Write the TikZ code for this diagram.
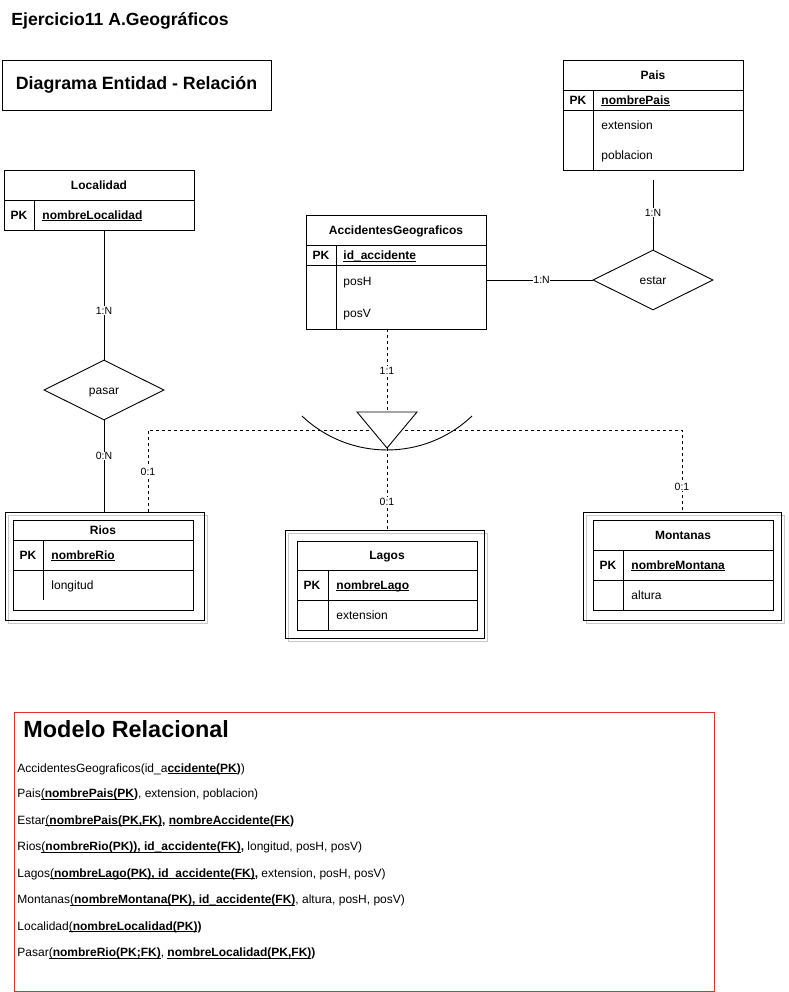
\documentclass[tikz,border=0pt]{standalone}
\usepackage{fontspec}
\setmainfont{Liberation Sans}
\usetikzlibrary{shapes.geometric}
% underline with a fixed offset below the baseline
\newcommand\ulbox[1]{\setbox0\hbox{#1}\rlap{\rule[-1.8pt]{\wd0}{0.75pt}}\box0}
\definecolor{framered}{RGB}{220,50,50}
\definecolor{shadowgray}{RGB}{200,200,200}
\begin{document}
\begin{tikzpicture}[x=1pt,y=-1pt,line width=0.9pt,
  every node/.style={inner sep=0pt},
  txt/.style={font=\fontsize{12}{14}\selectfont, text height=8.6pt, text depth=0pt},
  hdr/.style={txt, font=\fontsize{12}{14}\selectfont\bfseries},
  attr/.style={txt, anchor=west},
  keyattr/.style={attr, font=\fontsize{12}{14}\selectfont\bfseries},
  tbl/.style={draw, rectangle},
  outerbox/.style={draw, rectangle},
  card/.style={fill=white, inner sep=0.6pt, font=\fontsize{10.5}{12}\selectfont, text height=7.5pt, text depth=0pt},
  rel/.style={diamond, draw, aspect=2, minimum width=120pt, minimum height=60pt, inner sep=0pt, txt},
  dsh/.style={dash pattern=on 3pt off 3pt},
  relline/.style={anchor=west, font=\fontsize{12}{14}\selectfont, text height=8.6pt, text depth=0pt}
]
\useasboundingbox (0,0) rectangle (788,992);

% ---------- headings ----------
\node[anchor=base west, font=\fontsize{17.6}{20}\selectfont\bfseries] (title) at (11,26) {Ejercicio11 A.Geográficos};
\node[draw, minimum width=269pt, minimum height=50pt, font=\fontsize{17.8}{20}\selectfont\bfseries] (erbox) at (136.5,85) {Diagrama Entidad - Relación};

% ---------- Pais ----------
\node[tbl, minimum width=180pt, minimum height=110pt] (pais) at (653,115) {};
\draw (563,90) -- (743,90) (563,110) -- (743,110) (593,90) -- (593,170);
\node[hdr] (paisH) at (653,75) {Pais};
\node[hdr] (paisPK) at (578,100) {PK};
\node[keyattr] (paisK) at (601,100) {\ulbox{nombrePais}};
\node[attr] (paisA1) at (601,125) {extension};
\node[attr] (paisA2) at (601,155) {poblacion};

% ---------- Localidad ----------
\node[tbl, minimum width=190pt, minimum height=60pt] (loc) at (99,200) {};
\draw (4,200) -- (194,200) (34,200) -- (34,230);
\node[hdr] (locH) at (99,185) {Localidad};
\node[hdr] (locPK) at (19,215) {PK};
\node[keyattr] (locK) at (42,215) {\ulbox{nombreLocalidad}};

% ---------- AccidentesGeograficos ----------
\node[tbl, minimum width=180pt, minimum height=114pt] (acc) at (396,272) {};
\draw (306,245) -- (486,245) (306,265.5) -- (486,265.5) (336,245) -- (336,329);
\node[hdr] (accH) at (396,230) {AccidentesGeograficos};
\node[hdr] (accPK) at (321,255.5) {PK};
\node[keyattr] (accK) at (343,255.5) {\ulbox{id\_accidente}};
\node[attr] (accA1) at (343,281) {posH};
\node[attr] (accA2) at (343,313) {posV};

% ---------- relationships ----------
\node[rel] (estar) at (653,280) {estar};
\node[rel] (pasar) at (104,390) {pasar};

% ---------- Rios ----------
\draw[shadowgray, line width=0.8pt] (8,515) rectangle (207,623);
\node[outerbox, minimum width=199pt, minimum height=108pt] (riosO) at (104.5,566) {};
\node[tbl, minimum width=180pt, minimum height=90pt] (rios) at (103,565) {};
\draw (13,540) -- (193,540) (13,570) -- (193,570) (43,540) -- (43,600);
\node[hdr] (riosH) at (103,530) {Rios};
\node[hdr] (riosPK) at (28,555) {PK};
\node[keyattr] (riosK) at (51,555) {\ulbox{nombreRio}};
\node[attr] (riosA1) at (51,585) {longitud};

% ---------- Lagos ----------
\draw[shadowgray, line width=0.8pt] (288,533) rectangle (487,641);
\node[outerbox, minimum width=199pt, minimum height=108pt] (lagosO) at (384.5,584) {};
\node[tbl, minimum width=180pt, minimum height=89pt] (lagos) at (387,585.5) {};
\draw (297,570) -- (477,570) (297,600) -- (477,600) (328,570) -- (328,630);
\node[hdr] (lagosH) at (387,555) {Lagos};
\node[hdr] (lagosPK) at (312,585) {PK};
\node[keyattr] (lagosK) at (336,585) {\ulbox{nombreLago}};
\node[attr] (lagosA1) at (336,615) {extension};

% ---------- Montanas ----------
\draw[shadowgray, line width=0.8pt] (586,515) rectangle (784,623);
\node[outerbox, minimum width=198pt, minimum height=108pt] (montO) at (682,566) {};
\node[tbl, minimum width=180pt, minimum height=90pt] (mont) at (683,565) {};
\draw (593,550) -- (773,550) (593,580) -- (773,580) (623,550) -- (623,610);
\node[hdr] (montH) at (683,535) {Montanas};
\node[hdr] (montPK) at (608,565) {PK};
\node[keyattr] (montK) at (631,565) {\ulbox{nombreMontana}};
\node[attr] (montA1) at (631,595) {altura};

% ---------- connectors ----------
\coordinate (paisLink) at (653,180);
\draw (paisLink) -- node[card, pos=0.47] {1:N} (estar.north);
\draw (acc.east |- estar.west) -- node[card, pos=0.52] {1:N} (estar.west);
\draw (pasar.north |- loc.south) -- node[card, pos=0.62] {1:N} (pasar.north);
\draw (pasar.south) -- node[card, pos=0.39] {0:N} (pasar.south |- riosO.north);

% specialisation: triangle with covering arc
\coordinate (triL) at (357,412);
\coordinate (triR) at (417,412);
\coordinate (triTop) at (387,412);
\coordinate (triApex) at (387,448);
\coordinate (triMid) at (387,430);
\coordinate (arcL) at (302,416);
\coordinate (arcR) at (472,416);

\draw[dsh] (triTop |- acc.south) -- node[card] {1:1} (triTop);
\draw[dsh] (triMid) -| node[card, pos=0.755] {0:1} ([xshift=43.5pt]riosO.north);
\draw[dsh] (triMid) -| node[card, pos=0.85] {0:1} (montO.north);
\draw[dsh] (triApex) -- node[card, pos=0.66] {0:1} (triApex |- lagosO.north);
\draw (arcL) .. controls (349.6,461.3) and (424.4,461.3) .. (arcR);
\draw[fill=white] (triL) -- (triR) -- (triApex) -- cycle;

% ---------- relational model ----------
\node[draw=framered, line width=1pt, minimum width=700pt, minimum height=279pt, anchor=north west] (mrbox) at (13.5,711.5) {};
\node[anchor=west, font=\fontsize{23.4}{26}\selectfont\bfseries, text height=16.8pt, text depth=0pt] (mrT) at (23,729.5) {Modelo Relacional};
\node[relline] (r1) at (17,768) {AccidentesGeograficos(id\_a\ulbox{\textbf{ccidente(PK}}\textbf{)})};
\node[relline] (r2) at (17,793.5) {Pais\ulbox{(\textbf{nombrePais(PK}}\textbf{)}, extension, poblacion)};
\node[relline] (r3) at (17,820) {Estar\ulbox{(\textbf{nombrePais(PK,FK)}}\textbf{,} \ulbox{\textbf{nombreAccidente(FK}}\textbf{)}};
\node[relline] (r4) at (17,846.5) {Rios\ulbox{(\textbf{nombreRio(PK)), id\_accidente(FK)}}\textbf{,} longitud, posH, posV)};
\node[relline] (r5) at (17,873) {Lagos\ulbox{(\textbf{nombreLago(PK), id\_accidente(FK)}}\textbf{,} extension, posH, posV)};
\node[relline] (r6) at (17,899.5) {Montanas\ulbox{(\textbf{nombreMontana(PK), id\_accidente(FK)}}, altura, posH, posV)};
\node[relline] (r7) at (17,926) {Localidad\ulbox{(\textbf{nombreLocalidad(PK)}}\textbf{)}};
\node[relline] (r8) at (17,952.5) {Pasar\ulbox{(\textbf{nombreRio(PK;FK)}}, \ulbox{\textbf{nombreLocalidad(PK,FK)}}\textbf{)}};
\end{tikzpicture}
\end{document}
